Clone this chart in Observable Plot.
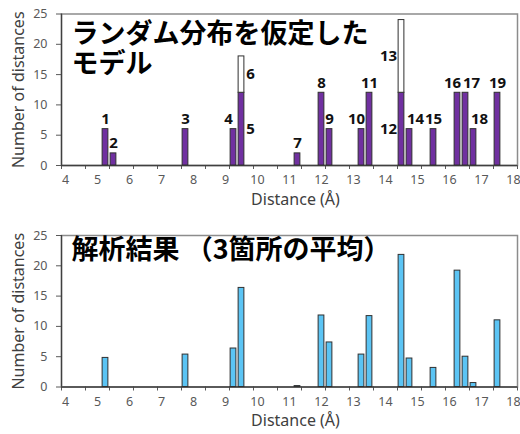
<!DOCTYPE html>
<html>
<head>
<meta charset="utf-8">
<script src="https://cdn.jsdelivr.net/npm/d3@7"></script>
<script src="https://cdn.jsdelivr.net/npm/@observablehq/plot@0.6"></script>
<style>
  body { margin: 0; background: #fff; }
  #chart svg { display: block; }
</style>
</head>
<body>
<div id="chart"></div>
<script>
// Random-distribution model: numbered distances (Å) and their counts.
// Bars 6 and 13 are extra counts stacked on top of bars 5 and 12.
const modelIds = [1, 2, 3, 4, 5, 6, 7, 8, 9, 10, 11, 12, 13, 14, 15, 16, 17, 18, 19];
const modelDistances = [5.25, 5.5, 7.75, 9.25, 9.5, 9.5, 11.25, 12, 12.25, 13.25, 13.5, 14.5, 14.5, 14.75, 15.5, 16.25, 16.5, 16.75, 17.5];
const modelCounts = [6, 2, 6, 6, 12, 6, 2, 12, 6, 6, 12, 12, 12, 6, 6, 12, 12, 6, 12];
const modelSegment = ["lower", "lower", "lower", "lower", "lower", "upper", "lower", "lower", "lower", "lower", "lower", "lower", "upper", "lower", "lower", "lower", "lower", "lower", "lower"];
const modelLabelPlace = ["top", "top", "top", "topLeft", "right", "right", "top", "top", "top", "topLeft", "top", "left", "left", "topRight", "top", "topLeft", "topRight", "topRight", "top"];

// Analysis result: average over 3 sites.
const measuredDistances = [5.25, 7.75, 9.25, 9.5, 11.25, 12, 12.25, 13.25, 13.5, 14.5, 14.75, 15.5, 16.25, 16.5, 16.75, 17.5];
const measuredCounts = [4.8, 5.35, 6.35, 16.35, 0.15, 11.8, 7.35, 5.35, 11.7, 21.8, 4.7, 3.15, 19.2, 5.0, 0.65, 11.0];

// Axis ticks
const xLabelTicks = [4, 5, 6, 7, 8, 9, 10, 11, 12, 13, 14, 15, 16, 17, 18];
const xMarkTicks = [3.875, 4.625, 5.375, 6.125, 6.875, 7.625, 8.375, 9.125, 9.875, 10.625, 11.375, 12.125, 12.875, 13.625, 14.375, 15.125, 15.875, 16.625, 17.375, 18.125];
const yTicks = [0, 5, 10, 15, 20, 25];

const xDomain = [3.875, 18.125];
const halfBar = 0.09;
const purple = "#7030a0";
const blue = "#5bc4f4";
const outline = "#303030";
const labelFont = "'Noto Sans', 'DejaVu Sans', sans-serif";
const titleFont = "'Noto Sans CJK JP', sans-serif";

// Stack segments that share a distance
const model = modelIds.map((id, i) => ({
  id, d: modelDistances[i], n: modelCounts[i],
  segment: modelSegment[i], place: modelLabelPlace[i]
}));
const baseAt = new Map();
for (const r of model) {
  const b = baseAt.get(r.d) ?? 0;
  r.y1 = b; r.y2 = b + r.n; r.mid = (r.y1 + r.y2) / 2;
  baseAt.set(r.d, r.y2);
}
const measured = measuredDistances.map((d, i) => ({d, n: measuredCounts[i]}));

function frameMarks() {
  return [
    Plot.frame({stroke: "#8c8c8c", strokeWidth: 1.5}),
    Plot.axisY(yTicks, {tickSize: 5, tickPadding: 9, label: null, fontSize: 12.5}),
    // short tick marks hanging below the baseline
    Plot.ruleX(xMarkTicks, {y1: 0, y2: 0, insetBottom: -4, stroke: "#595959"}),
    Plot.axisX(xLabelTicks, {tickSize: 0, tickPadding: 10, label: null, fontSize: 12.5}),
    Plot.ruleX([xDomain[0]], {stroke: "#404040", strokeWidth: 1.3}),
    Plot.ruleY([0], {stroke: "#404040", strokeWidth: 1.3}),
    Plot.text(["Number of distances"], {
      frameAnchor: "left", textAnchor: "middle", lineAnchor: "middle",
      dx: -43, rotate: -90, fontSize: 16, fill: "#404040", fontFamily: labelFont
    }),
    Plot.text(["Distance (Å)"], {
      frameAnchor: "bottom", textAnchor: "middle", lineAnchor: "middle",
      dx: 6, dy: 34, fontSize: 16, fill: "#404040", fontFamily: labelFont
    })
  ];
}

const common = {
  width: 520,
  marginLeft: 61,
  marginRight: 3,
  x: {domain: xDomain},
  y: {domain: [0, 25]},
  style: {fontFamily: labelFont, fontSize: "12.5px", color: "#595959", background: "#fff"}
};

const placeDx = {top: 0, topLeft: -5, topRight: 6, left: -13, right: 9};

const modelChart = Plot.plot({
  ...common,
  height: 212,
  marginTop: 13.5,
  marginBottom: 47,
  marks: [
    ...frameMarks(),
    Plot.rectY(model, {
      x1: r => r.d - halfBar, x2: r => r.d + halfBar, y1: "y1", y2: "y2",
      fill: r => r.segment === "upper" ? "#fff" : purple,
      stroke: outline, strokeWidth: 1
    }),
    ...Object.keys(placeDx).map(place => Plot.text(model.filter(r => r.place === place), {
      x: "d",
      y: r => place.startsWith("top") ? r.y2 : r.mid,
      text: r => String(r.id),
      dx: placeDx[place],
      dy: place.startsWith("top") ? -10 : 0,
      fontSize: 15, fontWeight: 700, fill: "#111", fontFamily: labelFont
    })),
    Plot.text(["ランダム分布を仮定した\nモデル"], {
      frameAnchor: "top-left", textAnchor: "start", lineAnchor: "top",
      dx: 10, dy: 8, lineHeight: 1.11,
      fontSize: 27, fontWeight: 700, fill: "#000", fontFamily: titleFont
    })
  ]
});

const measuredChart = Plot.plot({
  ...common,
  height: 222,
  marginTop: 23,
  marginBottom: 47.5,
  marks: [
    ...frameMarks(),
    Plot.rectY(measured, {
      x1: r => r.d - halfBar, x2: r => r.d + halfBar, y: "n",
      fill: blue, stroke: outline, strokeWidth: 1
    }),
    Plot.text(["解析結果 （3箇所の平均）"], {
      frameAnchor: "top-left", textAnchor: "start", lineAnchor: "top",
      dx: 10, dy: 4,
      fontSize: 27, fontWeight: 700, fill: "#000", fontFamily: titleFont
    })
  ]
});

document.getElementById("chart").append(modelChart, measuredChart);
</script>
</body>
</html>
